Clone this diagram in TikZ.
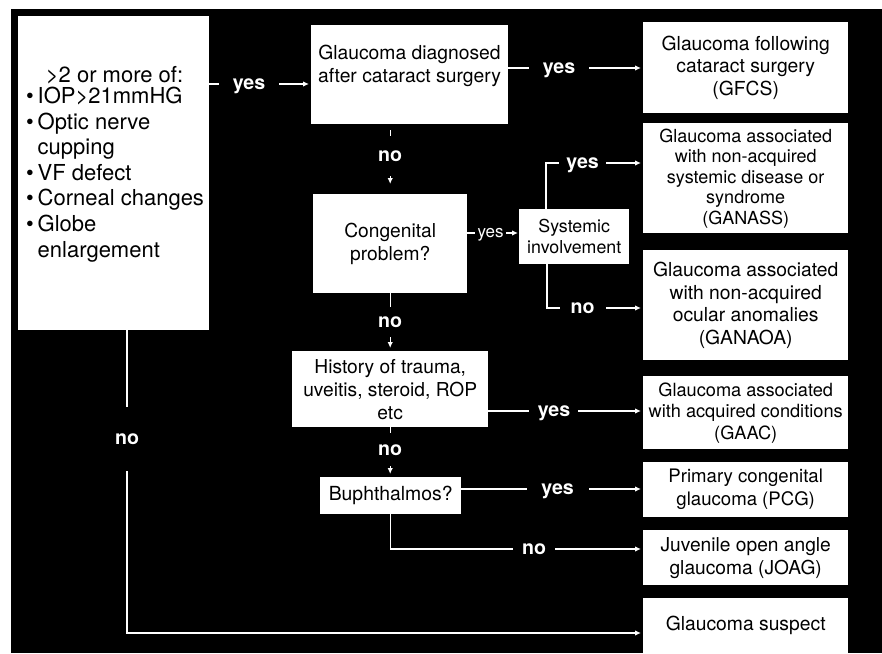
\documentclass[tikz,border=0pt]{standalone}
\usepackage{fontspec}
\setmainfont{TeX Gyre Heros}
\usetikzlibrary{arrows.meta,calc}
\begin{document}
\begin{tikzpicture}[x=1pt,y=-1pt,
  box/.style={fill=white, inner sep=0pt, align=center, anchor=north west, text=black},
  conn/.style={draw=white, line width=1.3pt, shorten >=2pt, -{Latex[length=6pt,width=5.5pt]}},
  lab/.style={fill=black, text=white, font=\bfseries\fontsize{19.6}{22}\selectfont, inner sep=0pt, text depth=0pt},
  labs/.style={fill=black, text=white, font=\fontsize{17}{20}\selectfont, inner sep=0pt, text depth=0pt},
  fa/.style={font=\fontsize{19.3}{22.5}\selectfont},
  fb/.style={font=\fontsize{18}{20.5}\selectfont},
  fl/.style={font=\fontsize{22}{25.6}\selectfont, text=black, inner sep=0pt, anchor=base west},
]
\useasboundingbox (0,0) rectangle (882,653);
\fill[white] (0,0) rectangle (882,653);
\fill[black] (11,9) rectangle (882,653);

% boxes
\node[box, minimum width=191, minimum height=314] (L) at (18,16) {};
\node[fl, anchor=base] (t0) at (114.5,82) {>2 or more of:};
\node[fl] (t1) at (26,103.5) {\makebox[11.5pt][l]{\textbullet}IOP>21mmHG};
\node[fl] (t2) at (26,129) {\makebox[11.5pt][l]{\textbullet}Optic nerve};
\node[fl] (t3) at (26,154.6) {\hspace*{11.5pt}cupping};
\node[fl] (t4) at (26,180.2) {\makebox[11.5pt][l]{\textbullet}VF defect};
\node[fl] (t5) at (26,205.8) {\makebox[11.5pt][l]{\textbullet}Corneal changes};
\node[fl] (t6) at (26,231.4) {\makebox[11.5pt][l]{\textbullet}Globe};
\node[fl] (t7) at (26,257) {\hspace*{11.5pt}enlargement};

\node[box, minimum width=197, minimum height=99] (b2) at (311,25) {};
\node[fa, align=center, text=black, inner sep=0pt] (b2t) at (409.5,66) {Glaucoma diagnosed\\after cataract surgery};

\node[box, fa, minimum width=205, minimum height=91] (gfcs) at (643,22) {Glaucoma following\\cataract surgery\\(GFCS)};
\node[box, fb, minimum width=205, minimum height=110] (ganass) at (643,123) {Glaucoma associated\\with non-acquired\\systemic disease or\\syndrome\\(GANASS)};
\node[box, fa, minimum width=205, minimum height=110] (ganaoa) at (643,250) {Glaucoma associated\\with non-acquired\\ocular anomalies\\(GANAOA)};
\node[box, font=\fontsize{18.2}{21.5}\selectfont, minimum width=205, minimum height=73] (gaac) at (643,376) {Glaucoma associated\\with acquired conditions\\(GAAC)};
\node[box, font=\fontsize{18.6}{23}\selectfont, minimum width=205, minimum height=55] (pcg) at (643,462) {Primary congenital\\glaucoma (PCG)};
\node[box, font=\fontsize{19.2}{23}\selectfont, minimum width=205, minimum height=55] (joag) at (643,530) {Juvenile open angle\\glaucoma (JOAG)};
\node[box, fa, minimum width=205, minimum height=55] (susp) at (643,598) {Glaucoma suspect};

\node[box, font=\fontsize{19.2}{23}\selectfont, minimum width=154, minimum height=99] (cong) at (313,194) {Congenital\\problem?};
\node[box, font=\fontsize{17.8}{21}\selectfont, minimum width=110, minimum height=55] (sys) at (519,209) {Systemic\\involvement};
\node[box, font=\fontsize{19.2}{23}\selectfont, minimum width=196, minimum height=76] (hist) at (292,351) {History of trauma,\\uveitis, steroid, ROP\\etc};
\node[box, font=\fontsize{19.4}{23}\selectfont, minimum width=141, minimum height=37] (buph) at (320,477) {Buphthalmos?};

% connectors
\draw[conn] (L.east |- 0,84) -- node[lab, pos=0.39, minimum width=60]{yes} (b2.west |- 0,84);
\draw[conn] (b2.east |- 0,68) -- node[lab, pos=0.376, minimum width=60]{yes} (gfcs.west |- 0,68);
\draw[conn, shorten <=6pt, shorten >=10pt] (cong.north |- b2.south) -- node[lab, pos=0.45, minimum height=40]{no} (cong.north);
\draw[conn, shorten >=3pt] (cong.south) -- node[lab, pos=0.5, minimum height=30]{no} (hist.north);
\draw[conn, shorten >=3pt] (hist.south) -- node[lab, pos=0.45, minimum height=33]{no} (hist.south |- buph.north);
\draw[conn, shorten >=1pt] (cong.east |- 0,233) -- node[labs, pos=0.45, minimum width=31]{yes} (sys.west |- 0,233);
\draw[conn] (sys.north -| 546,0) |- node[lab, pos=0.689, minimum width=47]{yes} (ganass.west |- 0,163);
\draw[conn] (sys.south -| 547,0) |- node[lab, pos=0.686, minimum width=46]{no} (ganaoa.west |- 0,308);
\draw[conn] (hist.east |- 0,411) -- node[lab, pos=0.424, minimum width=49]{yes} (gaac.west |- 0,411);
\draw[conn] (buph.east |- 0,489) -- node[lab, pos=0.53, minimum width=62]{yes} (pcg.west |- 0,489);
\draw[conn] (buph.south) |- node[lab, pos=0.784, minimum width=42]{no} (joag.west |- 0,549);
\draw[conn] (L.south -| 127,0) |- node[lab, pos=0.18, minimum height=64]{no} (susp.west |- 0,633);
\end{tikzpicture}
\end{document}
